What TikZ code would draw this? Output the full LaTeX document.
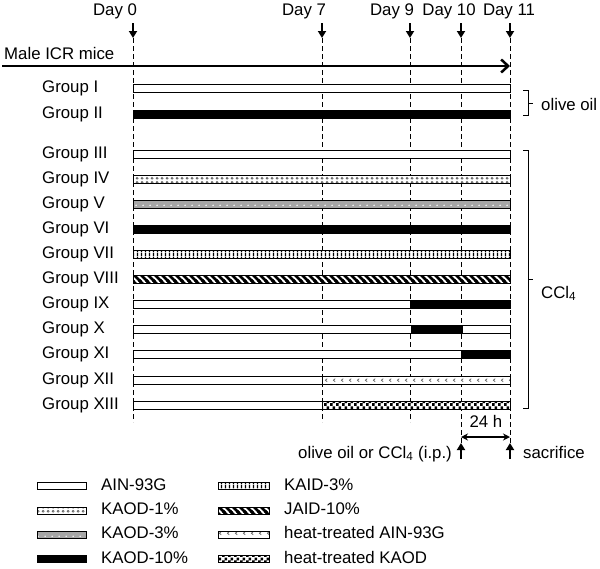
\documentclass[tikz,border=0pt]{standalone}
\usepackage{fontspec}
\setmainfont{Liberation Sans}
\usetikzlibrary{arrows.meta,patterns}

% fills used for the diets
\pgfdeclarepatternformonly{rings}{\pgfpointorigin}{\pgfqpoint{4.5pt}{4pt}}{\pgfqpoint{4.5pt}{4pt}}{%
  \pgfsetlinewidth{0.8pt}\pgfpathcircle{\pgfqpoint{2.25pt}{2pt}}{1.1pt}\pgfusepath{stroke}}
\pgfdeclarepatternformonly{whitedots}{\pgfpointorigin}{\pgfqpoint{7pt}{6pt}}{\pgfqpoint{7pt}{6pt}}{%
  \pgfpathcircle{\pgfqpoint{3.5pt}{3pt}}{0.9pt}\pgfusepath{fill}}
\pgfdeclarepatternformonly{vbars}{\pgfpointorigin}{\pgfqpoint{4pt}{4pt}}{\pgfqpoint{4pt}{4pt}}{%
  \pgfpathrectangle{\pgfqpoint{1pt}{0pt}}{\pgfqpoint{1.5pt}{4pt}}\pgfusepath{fill}}
\pgfdeclarepatternformonly{stripes}{\pgfqpoint{-2pt}{-2pt}}{\pgfqpoint{9pt}{9pt}}{\pgfqpoint{7pt}{7pt}}{%
  \pgfsetlinewidth{2.6pt}
  \pgfpathmoveto{\pgfqpoint{0pt}{7pt}}\pgfpathlineto{\pgfqpoint{7pt}{0pt}}
  \pgfpathmoveto{\pgfqpoint{-1pt}{1pt}}\pgfpathlineto{\pgfqpoint{1pt}{-1pt}}
  \pgfpathmoveto{\pgfqpoint{6pt}{8pt}}\pgfpathlineto{\pgfqpoint{8pt}{6pt}}
  \pgfusepath{stroke}}
\pgfdeclarepatternformonly{chevrons}{\pgfpointorigin}{\pgfqpoint{7.5pt}{8pt}}{\pgfqpoint{7.5pt}{8pt}}{%
  \pgfsetlinewidth{0.8pt}
  \pgfpathmoveto{\pgfqpoint{4.5pt}{5.6pt}}\pgfpathlineto{\pgfqpoint{2.5pt}{4pt}}
  \pgfpathlineto{\pgfqpoint{4.5pt}{2.4pt}}\pgfusepath{stroke}}
\pgfdeclarepatternformonly{checks}{\pgfpointorigin}{\pgfqpoint{6pt}{6pt}}{\pgfqpoint{6pt}{6pt}}{%
  \pgfpathrectangle{\pgfpointorigin}{\pgfqpoint{3pt}{3pt}}
  \pgfpathrectangle{\pgfqpoint{3pt}{3pt}}{\pgfqpoint{3pt}{3pt}}\pgfusepath{fill}}

\tikzset{
  bar/.style={draw=black, line width=0.9pt, fill=white},
  blackbar/.style={draw=black, line width=0.9pt, fill=black},
  pbar/.style={draw=black, line width=0.9pt, preaction={fill=white}},
  graybar/.style={draw=black, line width=0.9pt, preaction={fill=gray!70}, pattern=whitedots, pattern color=white},
  dayarr/.style={-{Triangle[length=7pt,width=8pt]}, line width=2pt},
  daytick/.style={line width=1pt, dash pattern=on 5pt off 3pt},
  grp/.style={anchor=west, inner sep=0pt, text height=12pt, text depth=3.5pt},
}

\begin{document}
\begin{tikzpicture}[x=1pt, y=-1pt, font=\fontsize{16.8}{20}\selectfont]
  \useasboundingbox (0,0) rectangle (600,568);
  % day 0 -> 133, day 7 -> 322, day 9 -> 410, day 10 -> 461, day 11 -> 510
  \node[anchor=base] (day0) at (115,15) {Day 0};
  \node[anchor=base] (day7) at (304,15) {Day 7};
  \node[anchor=base] (day9) at (392,15) {Day 9};
  \node[anchor=base] (day10) at (449,15) {Day 10};
  \node[anchor=base] (day11) at (509,15) {Day 11};
  \coordinate (a0) at (133,23);  \coordinate (b0) at (133,38);  \coordinate (e0) at (133,422);
  \coordinate (a7) at (322,23);  \coordinate (b7) at (322,38);  \coordinate (e7) at (322,422);
  \coordinate (a9) at (410,23);  \coordinate (b9) at (410,38);  \coordinate (e9) at (410,422);
  \coordinate (a10) at (461,23); \coordinate (b10) at (461,38); \coordinate (e10) at (461,443);
  \coordinate (a11) at (510,23); \coordinate (b11) at (510,38); \coordinate (e11) at (510,443);
  \draw[daytick] (b0) -- (e0);   \draw[dayarr] (a0) -- (b0);
  \draw[daytick] (b7) -- (e7);   \draw[dayarr] (a7) -- (b7);
  \draw[daytick] (b9) -- (e9);   \draw[dayarr] (a9) -- (b9);
  \draw[daytick] (b10) -- (e10); \draw[dayarr] (a10) -- (b10);
  \draw[daytick] (b11) -- (e11); \draw[dayarr] (a11) -- (b11);
  % time axis
  \node[anchor=base west, inner sep=0pt] (mice) at (4,59) {Male ICR mice};
  \coordinate (m1) at (2,66);
  \coordinate (m2) at (510,66);
  \draw[line width=2.5pt, -{Straight Barb[length=7pt,width=13pt]}] (m1) -- (m2);
  % groups, bars 8 high
  \node[grp] (g1) at (42,88.5) {Group I};
  \draw[bar] (133,84.5) rectangle (510,92.5);
  \node[grp] (g2) at (42,114) {Group II};
  \draw[blackbar] (133,110) rectangle (510,118);
  \node[grp] (g3) at (42,154) {Group III};
  \draw[bar] (133,150) rectangle (510,158);
  \node[grp] (g4) at (42,179) {Group IV};
  \draw[pbar, pattern=rings, pattern color=gray!80!black] (133,175) rectangle (510,183);
  \node[grp] (g5) at (42,204) {Group V};
  \draw[graybar] (133,200) rectangle (510,208);
  \node[grp] (g6) at (42,229) {Group VI};
  \draw[blackbar] (133,225) rectangle (510,233);
  \node[grp] (g7) at (42,254) {Group VII};
  \draw[pbar, pattern=vbars] (133,250) rectangle (510,258);
  \node[grp] (g8) at (42,279) {Group VIII};
  \draw[pbar, pattern=stripes] (133,275) rectangle (510,283);
  \node[grp] (g9) at (42,304) {Group IX};
  \draw[bar] (133,300) rectangle (510,308);
  \draw[blackbar] (410,300) rectangle (510,308);
  \node[grp] (g10) at (42,329.5) {Group X};
  \draw[bar] (133,325.5) rectangle (510,333.5);
  \draw[blackbar] (411,325.5) rectangle (462,333.5);
  \node[grp] (g11) at (42,354.5) {Group XI};
  \draw[bar] (133,350.5) rectangle (510,358.5);
  \draw[blackbar] (461,350.5) rectangle (510,358.5);
  \node[grp] (g12) at (42,380) {Group XII};
  \draw[bar] (133,376) rectangle (510,384);
  \draw[pbar, pattern=chevrons, pattern color=gray!80!black] (322,376) rectangle (510,384);
  \node[grp] (g13) at (42,405) {Group XIII};
  \draw[bar] (133,401) rectangle (510,409);
  \draw[pbar, pattern=checks] (322,401) rectangle (510,409);
  % brackets
  \draw[line width=0.8pt] (523,90) -- (528,90) -- (528,115) -- (523,115);
  \draw[line width=0.8pt] (528,103) -- (533,103);
  \node[anchor=base west, inner sep=0pt] (olive) at (541,110) {olive oil};
  \draw[line width=0.8pt] (523,150) -- (528,150) -- (528,408) -- (523,408);
  \draw[line width=0.8pt] (528,279) -- (533,279);
  \node[anchor=base west, inner sep=0pt] (ccl) at (541,298) {CCl\textsubscript{4}};
  % injection and sacrifice
  \node[anchor=base, inner sep=0pt] (hours) at (486,427) {24 h};
  \coordinate (h1) at (461,437);
  \coordinate (h2) at (510,437);
  \draw[line width=1.3pt, {Stealth[length=7pt,width=7pt]}-{Stealth[length=7pt,width=7pt]}] (h1) -- (h2);
  \coordinate (i1) at (461,459);
  \coordinate (s1) at (510,459);
  \draw[dayarr] (i1) -- (e10);
  \draw[dayarr] (s1) -- (e11);
  \node[anchor=base east, inner sep=0pt] (inject) at (452,458) {olive oil or CCl\textsubscript{4} (i.p.)};
  \node[anchor=base west, inner sep=0pt] (sac) at (523,458) {sacrifice};
  % legend
  \draw[bar] (37,482.5) rectangle (86,489.5);
  \node[grp] (l1) at (101,486) {AIN-93G};
  \draw[pbar, pattern=rings, pattern color=gray!80!black] (37,507) rectangle (86,514);
  \node[grp] (l2) at (101,510.5) {KAOD-1\%};
  \draw[graybar] (37,531) rectangle (86,538);
  \node[grp] (l3) at (101,534.5) {KAOD-3\%};
  \draw[blackbar] (37,555.5) rectangle (86,562.5);
  \node[grp] (l4) at (101,559) {KAOD-10\%};
  \draw[pbar, pattern=vbars] (218,482.5) rectangle (269,489.5);
  \node[grp] (l5) at (284,486) {KAID-3\%};
  \draw[pbar, pattern=stripes] (218,507) rectangle (269,514);
  \node[grp] (l6) at (284,510.5) {JAID-10\%};
  \draw[pbar, pattern=chevrons, pattern color=gray!80!black] (218,531) rectangle (269,538);
  \node[grp] (l7) at (284,534.5) {heat-treated AIN-93G};
  \draw[pbar, pattern=checks] (218,555.5) rectangle (269,562.5);
  \node[grp] (l8) at (284,559) {heat-treated KAOD};
\end{tikzpicture}
\end{document}
